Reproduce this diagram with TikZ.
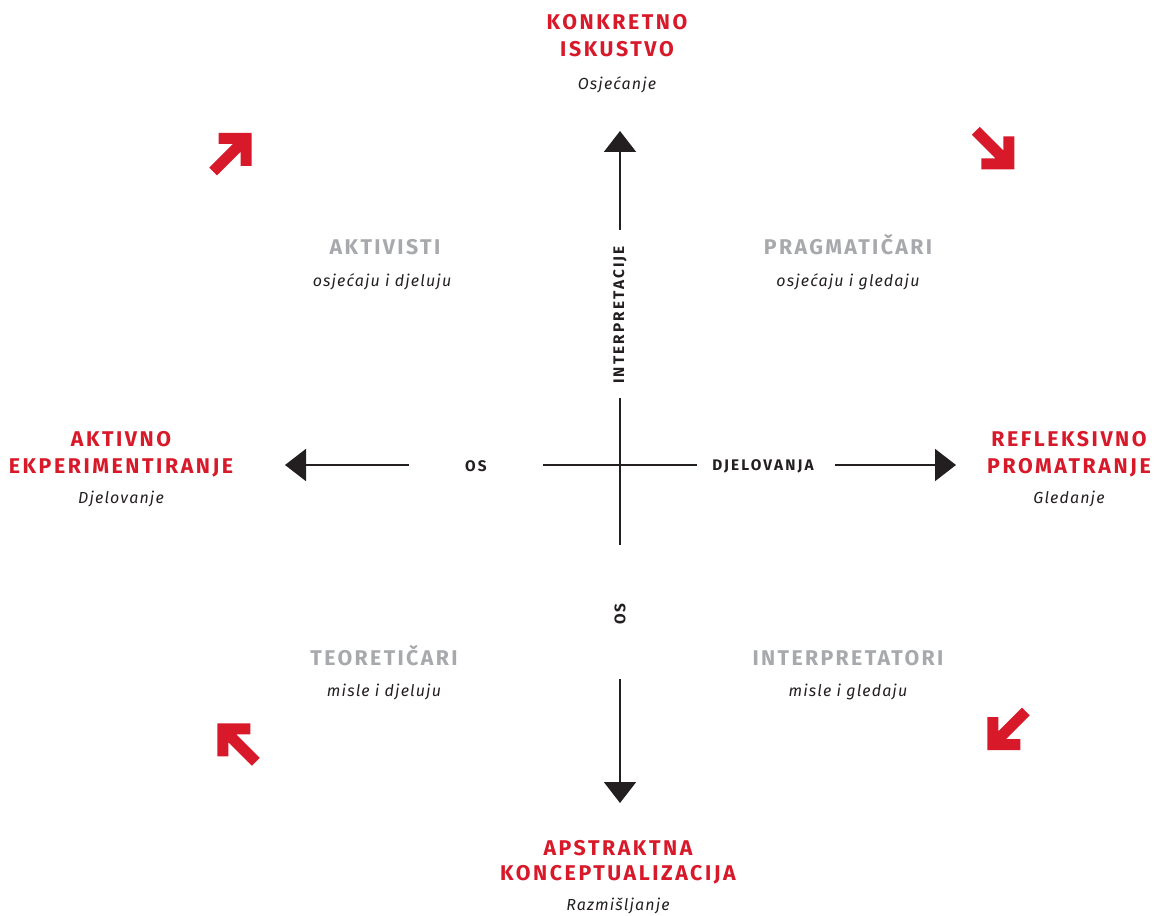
\documentclass[tikz,border=0pt]{standalone}
\usepackage{fontspec}
\setmainfont{Fira Sans}
\usetikzlibrary{arrows.meta}
\definecolor{redc}{HTML}{D7192A}
\definecolor{grayc}{HTML}{A7A9AC}
\definecolor{darkc}{HTML}{231F20}
\tikzset{
  title/.style={anchor=base, inner sep=0pt, text=redc, font=\fontsize{16}{18}\selectfont\bfseries\addfontfeatures{LetterSpace=12}},
  sub/.style={anchor=base, inner sep=0pt, text=darkc, font=\fontsize{12}{14}\selectfont\itshape\addfontfeatures{LetterSpace=7}},
  grp/.style={anchor=base, inner sep=0pt, text=grayc, font=\fontsize{16}{18}\selectfont\bfseries\addfontfeatures{LetterSpace=11}},
  axlbl/.style={inner sep=0pt, text=darkc, font=\fontsize{11.5}{13}\selectfont\bfseries\addfontfeatures{LetterSpace=14}},
  axis/.style={draw=darkc, line width=1.5pt},
  axarrow/.style={axis, -{Triangle[length=15.75pt,width=24pt]}},
  redarrow/.pic={\fill[redc] (-33,0) -- (0,0) -- (0,33) -- (-11,33) -- (-11,18.8) -- (-34.6,42.4) -- (-42.4,34.6) -- (-18.8,11) -- (-33,11) -- cycle;}
}
\begin{document}
\begin{tikzpicture}[x=0.75pt,y=-0.75pt]
\useasboundingbox (0,0) rectangle (1154,916);
% titles
\node[title] (t1a) at (617,30) {KONKRETNO};
\node[title] (t1b) at (617,56.7) {ISKUSTVO};
\node[sub] (t1c) at (617,89.3) {Osjećanje};
\node[title] (t2a) at (121,446.7) {AKTIVNO};
\node[title] (t2b) at (121,473.3) {EKPERIMENTIRANJE};
\node[sub] (t2c) at (121,503.3) {Djelovanje};
\node[title] (t3a) at (1069,446.7) {REFLEKSIVNO};
\node[title] (t3b) at (1069,473.3) {PROMATRANJE};
\node[sub] (t3c) at (1069,503.3) {Gledanje};
\node[title] (t4a) at (618,855) {APSTRAKTNA};
\node[title] (t4b) at (618,880) {KONCEPTUALIZACIJA};
\node[sub] (t4c) at (618,910) {Razmišljanje};
% groups
\node[grp] (g1) at (385,254.7) {AKTIVISTI};
\node[sub] (g1s) at (382,287) {osjećaju i djeluju};
\node[grp] (g2) at (848,254.7) {PRAGMATIČARI};
\node[sub] (g2s) at (848,287) {osjećaju i gledaju};
\node[grp] (g3) at (384,665.7) {TEORETIČARI};
\node[sub] (g3s) at (384,696) {misle i djeluju};
\node[grp] (g4) at (848,665.7) {INTERPRETATORI};
\node[sub] (g4s) at (848,696) {misle i gledaju};
% axis labels
\node[axlbl, rotate=90] (lint) at (620,315) {INTERPRETACIJE};
\node[axlbl] (los) at (476,466) {OS};
\node[axlbl] (ldj) at (763,466) {DJELOVANJA};
\node[axlbl, rotate=90] (los2) at (620,614) {OS};
% coordinates
\coordinate (upS) at (620,230);
\coordinate (upT) at (620,131);
\coordinate (dnS) at (620,679);
\coordinate (dnT) at (620,803);
\coordinate (lfS) at (409,465);
\coordinate (lfT) at (285,465);
\coordinate (rtS) at (835,465);
\coordinate (rtT) at (956,465);
\coordinate (cT) at (620,398);
\coordinate (cB) at (620,545);
\coordinate (cL) at (543,465);
\coordinate (cR) at (697,465);
\draw[axarrow] (upS) -- (upT);
\draw[axarrow] (dnS) -- (dnT);
\draw[axarrow] (lfS) -- (lfT);
\draw[axarrow] (rtS) -- (rtT);
\draw[axis] (cT) -- (cB);
\draw[axis] (cL) -- (cR);
% red corner arrows
\pic at (251.7,133) {redarrow};
\pic[yscale=-1] at (1014.3,169.3) {redarrow};
\pic[xscale=-1] at (217.3,723.3) {redarrow};
\pic[xscale=-1,yscale=-1] at (987.3,750) {redarrow};
\end{tikzpicture}
\end{document}
